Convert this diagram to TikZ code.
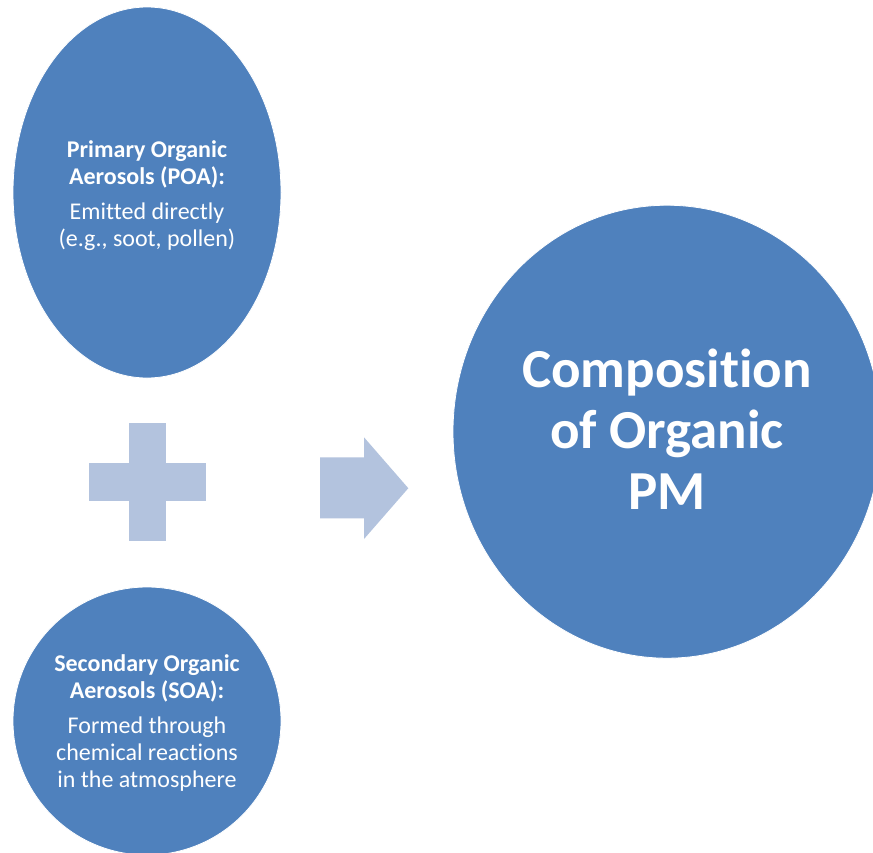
\documentclass[tikz,border=0pt]{standalone}
\usepackage{fontspec}
\setmainfont{Carlito}[Ligatures=NoCommon, RawFeature=-liga, RawFeature=-clig, RawFeature=-calt]
\usetikzlibrary{shapes.geometric, positioning}

\definecolor{blobblue}{HTML}{4F81BD}
\definecolor{signblue}{HTML}{B3C3DE}

\tikzset{
  blob/.style={ellipse, fill=blobblue, draw=white, line width=0.8pt, inner sep=0pt},
  blobtext/.style={text=white, align=center, inner sep=0pt},
  smalltext/.style={blobtext, font=\fontsize{24}{27}\selectfont},
  bigtext/.style={blobtext, font=\fontsize{55}{61}\selectfont\bfseries},
  sign/.style={fill=signblue, draw=none},
}

\begin{document}
\begin{tikzpicture}[x=1pt, y=-1pt]
  % page frame
  \clip (0,0) rectangle (873,852);
  \fill[white] (0,0) rectangle (873,852);

  % the two sources
  \node[blob, minimum width=268, minimum height=371] (poa) at (147,192.5) {};
  \node[smalltext] (poatext) at ([yshift=-3.5pt]poa.center)
    {\textbf{Primary Organic}\\\textbf{Aerosols (POA):}\\[8pt]Emitted directly\\(e.g., soot, pollen)};
  \node[blob, minimum width=268, minimum height=268] (soa) at (147,721) {};
  \node[smalltext] (soatext) at ([yshift=-2.5pt]soa.center)
    {\textbf{Secondary Organic}\\\textbf{Aerosols (SOA):}\\[8pt]Formed through\\chemical reactions\\in the atmosphere};

  % result
  \node[blob, minimum width=428, minimum height=453] (pm) at (667,431.7) {};
  \node[bigtext] (pmtext) at ([yshift=2.5pt]pm.center) {Composition\\of Organic\\PM};

  % plus sign
  \coordinate (plus) at (147.3,482);
  \fill[sign] ([xshift=-18.7pt,yshift=58.7pt]plus) rectangle ([xshift=18.7pt,yshift=-58.7pt]plus);
  \fill[sign] ([xshift=-58.3pt,yshift=18.7pt]plus) rectangle ([xshift=58.3pt,yshift=-18.7pt]plus);

  % arrow
  \fill[sign] (320,457.3) -- (364,457.3) -- (364,437.3) -- (408.3,488.2)
    -- (364,539) -- (364,518.3) -- (320,518.3) -- cycle;
\end{tikzpicture}
\end{document}
